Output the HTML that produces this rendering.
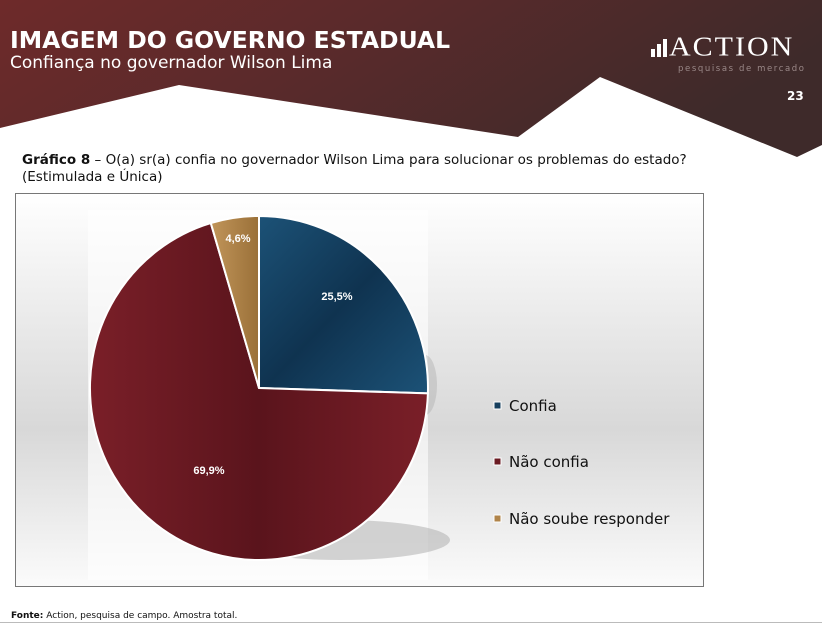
<!DOCTYPE html>
<html><head><meta charset="utf-8"><style>
body{margin:0;width:822px;height:630px;overflow:hidden;background:#fff;font-family:"DejaVu Sans","Liberation Sans",sans-serif;position:relative}
.a{position:absolute;white-space:nowrap}
</style></head><body>
<svg class="a" style="left:0;top:0" width="822" height="630">
<defs>
<linearGradient id="hd" x1="0" y1="0" x2="1" y2="0.3">
<stop offset="0" stop-color="#6e2a2a"/><stop offset="0.45" stop-color="#5a2a2b"/><stop offset="1" stop-color="#3e2a2a"/></linearGradient>
<linearGradient id="bx" x1="0" y1="0" x2="0" y2="1">
<stop offset="0" stop-color="#fff"/><stop offset="0.6" stop-color="#d8d8d8"/><stop offset="1" stop-color="#fbfbfb"/></linearGradient>
<linearGradient id="rd" x1="0" y1="0" x2="1" y2="0">
<stop offset="0" stop-color="#7a1f28"/><stop offset="0.5" stop-color="#5a141c"/><stop offset="1" stop-color="#7a1f28"/></linearGradient>
<linearGradient id="bl" x1="0" y1="0" x2="1" y2="1">
<stop offset="0" stop-color="#1c5277"/><stop offset="0.5" stop-color="#0f3350"/><stop offset="1" stop-color="#1c5277"/></linearGradient>
<linearGradient id="tn" x1="0" y1="0" x2="1" y2="0">
<stop offset="0" stop-color="#c1955a"/><stop offset="1" stop-color="#9a7038"/></linearGradient>
</defs>
<polygon points="0,0 822,0 822,145 797,157 600,77 518,137 179,85 0,128" fill="url(#hd)"/>
<rect x="15.5" y="193.5" width="688" height="393" fill="url(#bx)" stroke="#777" stroke-width="1"/>
<rect x="88" y="210" width="340" height="370" fill="#fff" opacity="0.6"/>
<ellipse cx="340" cy="540" rx="110" ry="20" fill="#aaa" opacity="0.5"/>
<ellipse cx="425" cy="385" rx="12" ry="30" fill="#aaa" opacity="0.4"/>
<g transform="translate(259,388) scale(1,1.018)">
<path d="M0,0 L0,-169 A169,169 0 0 1 168.9,5.3 Z" fill="url(#bl)" stroke="#fff" stroke-width="2"/>
<path d="M0,0 L168.9,5.3 A169,169 0 1 1 -48.2,-162 Z" fill="url(#rd)" stroke="#fff" stroke-width="2"/>
<path d="M0,0 L-48.2,-162 A169,169 0 0 1 0,-169 Z" fill="url(#tn)" stroke="#fff" stroke-width="2"/>
</g>
<g font-family="Liberation Sans,sans-serif" font-weight="bold" font-size="11" fill="#fff" text-anchor="middle">
<text x="337" y="300">25,5%</text><text x="238" y="242">4,6%</text><text x="209" y="474">69,9%</text></g>
<rect x="494" y="402" width="7" height="7" fill="#163f5e" stroke="#fff"/>
<rect x="494" y="458" width="7" height="7" fill="#6a1a22" stroke="#fff"/>
<rect x="494" y="515" width="7" height="7" fill="#b0844a" stroke="#fff"/>
<g fill="#fff"><rect x="651" y="49" width="4" height="8"/><rect x="657" y="44" width="4" height="13"/><rect x="663" y="39" width="4" height="18"/></g>
<line x1="0" y1="622.5" x2="822" y2="622.5" stroke="#bbb"/>
</svg>
<div class="a" style="left:10px;top:26px;font-size:23.5px;font-weight:bold;color:#fff">IMAGEM DO GOVERNO ESTADUAL</div>
<div class="a" style="left:10px;top:53px;font-size:17px;color:#fff">Confiança no governador Wilson Lima</div>
<div class="a" style="left:669px;top:32px;font-family:'Liberation Serif',serif;font-size:30px;color:#fff;letter-spacing:2px;transform:scaleY(0.9);transform-origin:left top">ACTION</div>
<div class="a" style="left:678px;top:64px;font-size:8.5px;color:#9a8888;letter-spacing:1.6px">pesquisas de mercado</div>
<div class="a" style="left:787px;top:89px;font-size:12px;font-weight:bold;color:#fff">23</div>
<div class="a" style="left:22px;top:152px;font-size:13.5px;color:#111;line-height:17px"><b>Gráfico 8</b> – O(a) sr(a) confia no governador Wilson Lima para solucionar os problemas do estado?<br>(Estimulada e Única)</div>
<div class="a" style="left:509px;top:397px;font-size:15px;color:#111">Confia</div>
<div class="a" style="left:509px;top:453px;font-size:15px;color:#111">Não confia</div>
<div class="a" style="left:509px;top:510px;font-size:15px;color:#111">Não soube responder</div>
<div class="a" style="left:11px;top:611px;font-size:9px;color:#111"><b>Fonte:</b> Action, pesquisa de campo. Amostra total.</div>
</body></html>
